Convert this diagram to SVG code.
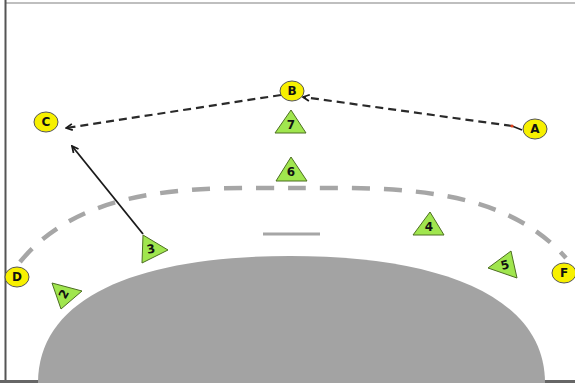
<svg xmlns="http://www.w3.org/2000/svg" width="575" height="383" viewBox="0 0 575 383">
<defs>
<style>
.player ellipse{fill:#f7f000;stroke:#555;stroke-width:1}
.cone polygon{fill:#a0e64e;stroke:#4d6e22;stroke-width:1}
text{font-family:"DejaVu Sans",Verdana,sans-serif;font-weight:bold;font-size:12px;fill:#111;text-anchor:middle;dominant-baseline:central}
.pass{fill:none;stroke:#2a2a2a;stroke-width:2.2;stroke-dasharray:8 5}
.run{fill:none;stroke:#1a1a1a;stroke-width:1.8}
</style>
<marker id="arr" viewBox="0 0 10 10" refX="9" refY="5" markerWidth="8" markerHeight="8" orient="auto" markerUnits="userSpaceOnUse">
<polyline points="1,1 9,5 1,9" fill="none" stroke="#1a1a1a" stroke-width="2.2"/>
</marker>
</defs>
<rect width="575" height="383" fill="#fff"/>
<g id="court">
<line x1="5" y1="3" x2="575" y2="3" stroke="#aaa" stroke-width="1.5"/>
<line x1="5.5" y1="0" x2="5.5" y2="383" stroke="#555" stroke-width="2"/>
<line x1="0" y1="381.5" x2="575" y2="381.5" stroke="#666" stroke-width="3"/>
<path d="M38 383 C38 296 140 256 290 256 C440 256 545 296 545 383 Z" fill="#a3a3a3"/>
<path d="M20 262 C85 183 200 188 293 188 C386 188 500 183 566 258" fill="none" stroke="#a6a6a6" stroke-width="4.5" stroke-dasharray="18 14"/>
<line x1="263" y1="234" x2="320" y2="234" stroke="#a6a6a6" stroke-width="3"/>
</g>
<g id="connectors">
<line class="pass" x1="512" y1="126" x2="303" y2="97" marker-end="url(#arr)"/>
<line x1="512" y1="126" x2="522" y2="130" stroke="#1a1a1a" stroke-width="1.5"/>
<circle cx="512" cy="126" r="1.6" fill="#e0401a"/>
<line class="pass" x1="281" y1="95" x2="66" y2="128" marker-end="url(#arr)"/>
<line class="run" x1="143" y1="234" x2="72" y2="146" marker-end="url(#arr)"/>
</g>
<g id="B" class="player"><ellipse cx="292" cy="91" rx="12" ry="10"/><text x="292" y="91">B</text></g>
<g id="C" class="player"><ellipse cx="46" cy="122" rx="12" ry="10"/><text x="46" y="122">C</text></g>
<g id="A" class="player"><ellipse cx="535" cy="129" rx="12" ry="10"/><text x="535" y="129">A</text></g>
<g id="D" class="player"><ellipse cx="17" cy="277" rx="12" ry="10"/><text x="17" y="277">D</text></g>
<g id="F" class="player"><ellipse cx="564" cy="273" rx="12" ry="10"/><text x="564" y="273">F</text></g>
<g id="t7" class="cone"><polygon points="291,110 275,133 306,133"/><text x="291" y="125">7</text></g>
<g id="t6" class="cone"><polygon points="291,157 276,181 307,181"/><text x="291" y="172">6</text></g>
<g id="t4" class="cone"><polygon points="430,212 413,235 444,235"/><text x="429" y="227">4</text></g>
<g id="t3" class="cone"><polygon points="143,235 168,250 142,263"/><text x="151" y="249" transform="rotate(-10 151 249)">3</text></g>
<g id="t2" class="cone"><polygon points="52,283 82,291 61,309"/><text x="64" y="294" transform="rotate(-60 64 294)">2</text></g>
<g id="t5" class="cone"><polygon points="511,251 517,278 488,268"/><text x="505" y="265" transform="rotate(-15 505 265)">5</text></g>
</svg>
